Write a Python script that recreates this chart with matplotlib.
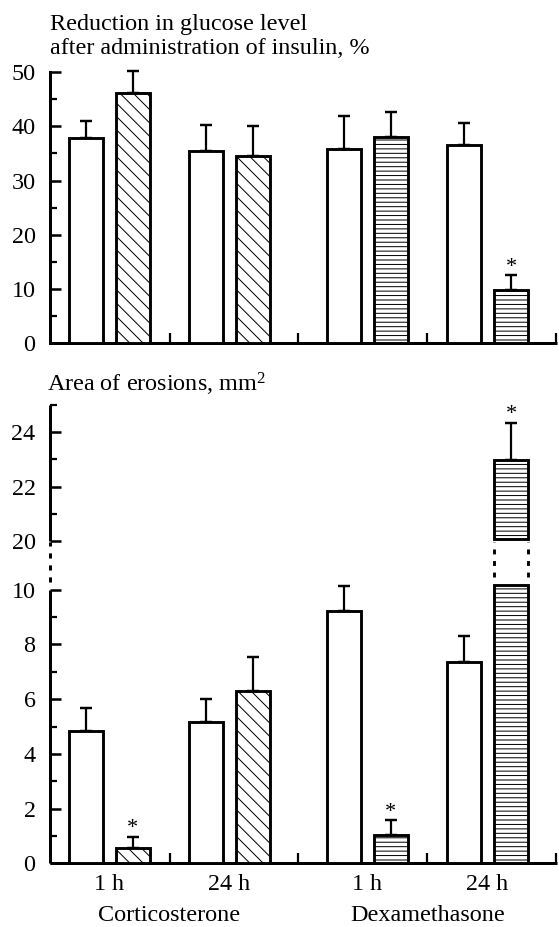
import numpy as np
import matplotlib
matplotlib.use("Agg")
import matplotlib.pyplot as plt

# ---------------- data ----------------
groups = ["1 h", "24 h", "1 h", "24 h"]
drugs = ["Corticosterone", "Dexamethasone"]
# bar order: [control, treated] for each group
glucose_mean = [37.8, 46.1, 35.4, 34.5, 35.8, 38.0, 36.5, 9.8]
glucose_sem = [3.2, 4.1, 4.8, 5.5, 6.1, 4.6, 4.1, 2.7]
glucose_sig = [False, False, False, False, False, False, False, True]

erosion_mean = [4.84, 0.57, 5.17, 6.29, 9.22, 1.03, 7.34, 22.97]
erosion_sem = [0.84, 0.40, 0.85, 1.24, 0.90, 0.55, 0.97, 1.37]
erosion_sig = [False, True, False, False, False, True, False, True]

hatches = [None, "\\\\", None, "\\\\", None, "---", None, "---"]

# ---------------- style ----------------
W, H, DPI = 559, 927, 80
plt.rcParams["font.family"] = ["Liberation Serif", "DejaVu Serif"]
plt.rcParams["mathtext.fontset"] = "custom"
plt.rcParams["mathtext.rm"] = "Liberation Serif"
plt.rcParams["mathtext.it"] = "Liberation Serif:italic"
plt.rcParams["mathtext.bf"] = "Liberation Serif:bold"
plt.rcParams["hatch.linewidth"] = 0.9

FS = 21.7
SPINE_LW = 2.7
BAR_LW = 2.6

fig = plt.figure(figsize=(W / DPI, H / DPI), dpi=DPI)


def fx(px):
    return px / W


def fy(px):
    return 1 - px / H


# layout (x in units of pixels from the y axis)
group_centers = np.array([59.0, 179.5, 317.0, 437.5])
offset = 23.5
bar_w = 34
xpos = np.ravel(np.column_stack([group_centers - offset, group_centers + offset]))
separators = [120, 248, 377, 506]
XMAX = 507

ax1 = fig.add_axes([fx(50), fy(343.3), fx(50 + XMAX) - fx(50), fy(72) - fy(343.3)])
ax2 = fig.add_axes([fx(50), fy(863.3), fx(50 + XMAX) - fx(50), fy(404.5) - fy(863.3)])


def style_axes(ax):
    ax.set_xlim(0, XMAX)
    for s in ["top", "right"]:
        ax.spines[s].set_visible(False)
    ax.spines["left"].set_linewidth(SPINE_LW)
    ax.spines["bottom"].set_linewidth(SPINE_LW)
    ax.spines["bottom"].set_capstyle("butt")
    ax.set_xticks(separators)
    ax.set_xticklabels([])
    ax.tick_params(axis="x", which="major", direction="in", length=9, width=2.0)
    ax.tick_params(axis="y", which="major", direction="in", length=10, width=2.3,
                   labelsize=FS, pad=13)
    ax.tick_params(axis="y", which="minor", direction="in", length=6, width=2.0)


def star(ax, x, y, dy=3.3):
    ax.annotate("*", xy=(x, y), xytext=(0, dy), textcoords="offset pixels",
                ha="center", va="baseline", fontsize=20, annotation_clip=False)


def errbars(ax, xs, means, sems):
    cont = ax.errorbar(xs, means, yerr=[np.zeros(len(means)), sems], fmt="none",
                       ecolor="black", elinewidth=2.0, capsize=5.6, capthick=2.2, zorder=2)
    for child in cont.get_children():
        child.set_clip_on(False)


# ---------------- top panel ----------------
style_axes(ax1)
ax1.set_ylim(0, 50)
ax1.set_yticks(np.arange(0, 51, 10))
ax1.set_yticks(np.arange(5, 50, 10), minor=True)
ax1.yaxis.set_minor_formatter(plt.NullFormatter())

for i, (x, m) in enumerate(zip(xpos, glucose_mean)):
    ax1.bar(x, m, width=bar_w, facecolor="white", edgecolor="black",
            linewidth=BAR_LW, hatch=hatches[i], zorder=3)
errbars(ax1, xpos, glucose_mean, glucose_sem)
for x, m, s, sig in zip(xpos, glucose_mean, glucose_sem, glucose_sig):
    if sig:
        star(ax1, x, m + s)

# ---------------- bottom panel (broken axis) ----------------
BRK_A, BRK_B = 10.5, 20.0
GAP = 1.77


def fwd(v):
    v = np.asarray(v, dtype=float)
    return np.where(v <= BRK_A, v,
                    np.where(v < BRK_B, BRK_A + (v - BRK_A) * ((GAP + 10 - BRK_A) / (BRK_B - BRK_A)),
                             v - BRK_B + 10 + GAP))


def inv(u):
    u = np.asarray(u, dtype=float)
    return np.where(u <= BRK_A, u,
                    np.where(u < 10 + GAP, BRK_A + (u - BRK_A) * ((BRK_B - BRK_A) / (GAP + 10 - BRK_A)),
                             u + BRK_B - 10 - GAP))


style_axes(ax2)
ax2.set_yscale("function", functions=(fwd, inv))
ax2.set_ylim(0, 25)
ax2.set_yticks([0, 2, 4, 6, 8, 10, 20, 22, 24])
ax2.set_yticklabels(["0", "2", "4", "6", "8", "10", "20", "22", "24"])
ax2.set_yticks([1, 3, 5, 7, 9, 21, 23, 25], minor=True)
ax2.yaxis.set_minor_formatter(plt.NullFormatter())

# left spine drawn by hand: solid - dotted - solid
ax2.spines["left"].set_visible(False)
ytr = ax2.get_yaxis_transform()
ax2.plot([0, 0], [0, 10], transform=ytr, color="black", lw=SPINE_LW,
         solid_capstyle="butt", clip_on=False, zorder=5)
ax2.plot([0, 0], [10.3, 19.8], transform=ytr, color="black", lw=SPINE_LW,
         linestyle=(0, (1.7, 2.3)), dash_capstyle="butt", clip_on=False, zorder=5)
ax2.plot([0, 0], [20, 25], transform=ytr, color="black", lw=SPINE_LW,
         solid_capstyle="butt", clip_on=False, zorder=5)

bar_lo, bar_hi = 10.18, 20.09  # where tall bars are interrupted
for i, (x, m) in enumerate(zip(xpos, erosion_mean)):
    if m > bar_hi:
        ax2.bar(x, bar_lo, width=bar_w, facecolor="white", edgecolor="black",
                linewidth=BAR_LW, hatch=hatches[i], zorder=3)
        ax2.bar(x, m - bar_hi, bottom=bar_hi, width=bar_w, facecolor="white",
                edgecolor="black", linewidth=BAR_LW, hatch=hatches[i], zorder=3)
        ax2.vlines([x - bar_w / 2, x + bar_w / 2], bar_lo + 0.3, bar_hi - 0.3,
                   colors="black", lw=BAR_LW, linestyles=(0, (1.7, 2.3)), zorder=3)
    else:
        ax2.bar(x, m, width=bar_w, facecolor="white", edgecolor="black",
                linewidth=BAR_LW, hatch=hatches[i], zorder=3)
errbars(ax2, xpos, erosion_mean, erosion_sem)
for x, m, s, sig in zip(xpos, erosion_mean, erosion_sem, erosion_sig):
    if sig:
        star(ax2, x, m + s)

ax2.set_xticks(group_centers, minor=True)
ax2.set_xticklabels(groups, minor=True, fontsize=FS)
ax2.tick_params(axis="x", which="minor", length=0, pad=10)

for k, name in enumerate(drugs):
    cx = (group_centers[2 * k] + group_centers[2 * k + 1]) / 2
    ax2.annotate(name, xy=(cx, 0), xycoords=("data", "axes fraction"),
                 xytext=(0, -52), textcoords="offset pixels",
                 ha="center", va="center", fontsize=FS)

# ---------------- titles ----------------
fig.text(fx(50), fy(30), "Reduction in glucose level", fontsize=FS, va="baseline", ha="left")
fig.text(fx(50), fy(54), "after administration of insulin, %", fontsize=FS, va="baseline", ha="left")
fig.text(fx(47), fy(391), r"Area of erosions, mm$^{2}$", fontsize=FS, va="baseline", ha="left")

fig.savefig("out.png", dpi=DPI)
